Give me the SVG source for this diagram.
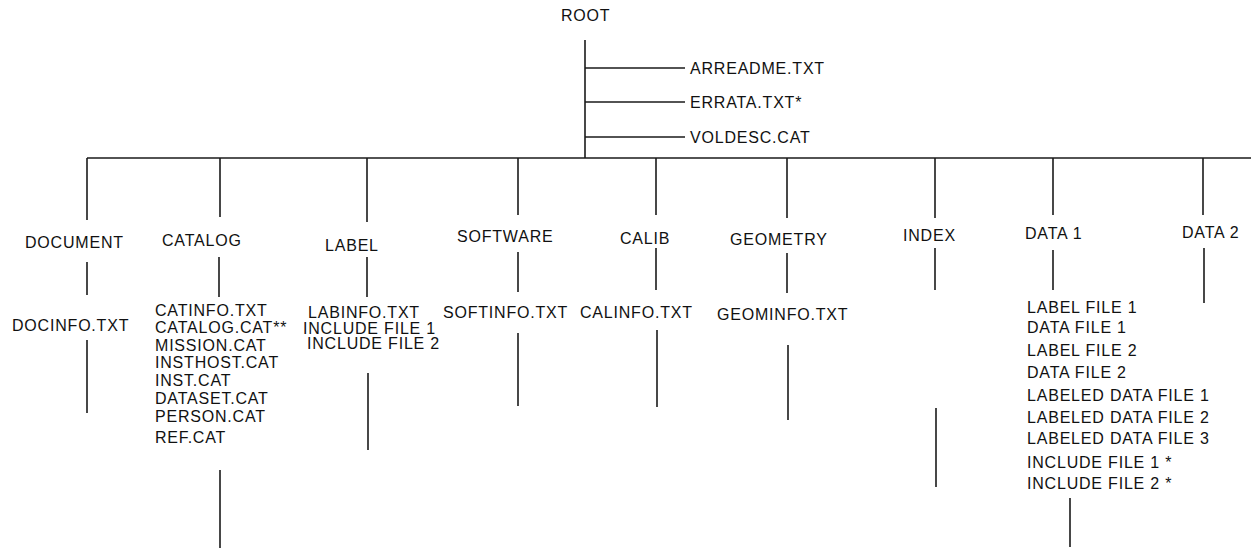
<svg xmlns="http://www.w3.org/2000/svg" width="1251" height="552" viewBox="0 0 1251 552">
<style>
text{font-family:"Liberation Sans",Arial,sans-serif;font-size:16px;letter-spacing:0.8px;fill:#111}
.c line{stroke:#1a1a1a;stroke-width:1.6;fill:none}
</style>
<rect width="1251" height="552" fill="#fff"/>
<g id="connectors" class="c">
<line x1="585" y1="40" x2="585" y2="158"/>
<line x1="585" y1="68" x2="685" y2="68"/>
<line x1="585" y1="102" x2="685" y2="102"/>
<line x1="585" y1="137" x2="685" y2="137"/>
<line x1="87" y1="158" x2="1251" y2="158"/>
<line x1="87" y1="158" x2="87" y2="220"/>
<line x1="220" y1="158" x2="220" y2="217"/>
<line x1="367" y1="158" x2="367" y2="222"/>
<line x1="518" y1="158" x2="518" y2="215"/>
<line x1="656" y1="158" x2="656" y2="215"/>
<line x1="787" y1="158" x2="787" y2="218"/>
<line x1="935" y1="158" x2="935" y2="218"/>
<line x1="1053" y1="158" x2="1053" y2="215"/>
<line x1="1203" y1="158" x2="1203" y2="215"/>
<line x1="87" y1="262" x2="87" y2="295"/>
<line x1="219" y1="257" x2="219" y2="297"/>
<line x1="367" y1="257" x2="367" y2="297"/>
<line x1="518" y1="252" x2="518" y2="292"/>
<line x1="656" y1="248" x2="656" y2="290"/>
<line x1="787" y1="253" x2="787" y2="293"/>
<line x1="935" y1="248" x2="935" y2="290"/>
<line x1="1053" y1="250" x2="1053" y2="290"/>
<line x1="1204" y1="248" x2="1204" y2="303"/>
<line x1="87" y1="340" x2="87" y2="413"/>
<line x1="220" y1="470" x2="220" y2="548"/>
<line x1="368" y1="373" x2="368" y2="450"/>
<line x1="518" y1="333" x2="518" y2="406"/>
<line x1="657" y1="330" x2="657" y2="407"/>
<line x1="788" y1="345" x2="788" y2="420"/>
<line x1="936" y1="408" x2="936" y2="487"/>
<line x1="1070" y1="498" x2="1070" y2="547"/>
</g>
<g id="root"><text x="561" y="21">ROOT</text></g>
<g id="arreadme"><text x="690" y="74">ARREADME.TXT</text></g>
<g id="errata"><text x="690" y="108">ERRATA.TXT*</text></g>
<g id="voldesc"><text x="690" y="143">VOLDESC.CAT</text></g>
<g id="document"><text x="25" y="248">DOCUMENT</text></g>
<g id="catalog"><text x="162" y="246">CATALOG</text></g>
<g id="label"><text x="325" y="251">LABEL</text></g>
<g id="software"><text x="457" y="242">SOFTWARE</text></g>
<g id="calib"><text x="620" y="244">CALIB</text></g>
<g id="geometry"><text x="730" y="245">GEOMETRY</text></g>
<g id="index"><text x="903" y="241">INDEX</text></g>
<g id="data1"><text x="1025" y="239">DATA 1</text></g>
<g id="data2"><text x="1182" y="238">DATA 2</text></g>
<g id="docinfo"><text x="12" y="331">DOCINFO.TXT</text></g>
<g id="catalog-files">
<text x="155" y="316">CATINFO.TXT</text>
<text x="155" y="333">CATALOG.CAT**</text>
<text x="155" y="351">MISSION.CAT</text>
<text x="155" y="368">INSTHOST.CAT</text>
<text x="155" y="386">INST.CAT</text>
<text x="155" y="404">DATASET.CAT</text>
<text x="155" y="422">PERSON.CAT</text>
<text x="155" y="443">REF.CAT</text>
</g>
<g id="label-files">
<text x="308" y="318">LABINFO.TXT</text>
<text x="303" y="334">INCLUDE FILE 1</text>
<text x="307" y="349">INCLUDE FILE 2</text>
</g>
<g id="softinfo"><text x="443" y="318">SOFTINFO.TXT</text></g>
<g id="calinfo"><text x="580" y="318">CALINFO.TXT</text></g>
<g id="geominfo"><text x="717" y="320">GEOMINFO.TXT</text></g>
<g id="data1-files">
<text x="1027" y="313">LABEL FILE 1</text>
<text x="1027" y="333">DATA FILE 1</text>
<text x="1027" y="356">LABEL FILE 2</text>
<text x="1027" y="378">DATA FILE 2</text>
<text x="1027" y="401">LABELED DATA FILE 1</text>
<text x="1027" y="423">LABELED DATA FILE 2</text>
<text x="1027" y="444">LABELED DATA FILE 3</text>
<text x="1027" y="468">INCLUDE FILE 1 *</text>
<text x="1027" y="489">INCLUDE FILE 2 *</text>
</g>
</svg>
